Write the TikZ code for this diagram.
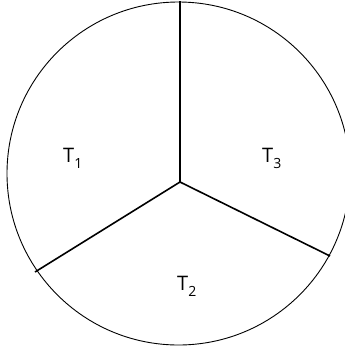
\documentclass[tikz,border=0pt]{standalone}
\usepackage{fontspec}
\setmainfont{Open Sans}
\begin{document}
\begin{tikzpicture}[x=1pt,y=-1pt,
  lbl/.style={anchor=base west,inner sep=0pt,font=\fontsize{20}{24}\selectfont},
  spoke/.style={line width=1.6pt}]
\useasboundingbox (0,0) rectangle (345,354);
\draw[line width=0.9pt] (178.5,173.5) circle[radius=171.5];
\coordinate (c) at (180,182);
\coordinate (top) at (180,1);
\coordinate (ll) at (35,272);
\coordinate (lr) at (330,256);
\draw[spoke] (c) -- (top);
\draw[spoke] (c) -- (ll);
\draw[spoke] (c) -- (lr);
\node[lbl] (t1) at (63,162) {T\raisebox{-0.3em}{\fontsize{14}{14}\selectfont 1}};
\node[lbl] (t3) at (262,162) {T\raisebox{-0.3em}{\fontsize{14}{14}\selectfont 3}};
\node[lbl] (t2) at (177,290) {T\raisebox{-0.3em}{\fontsize{14}{14}\selectfont 2}};
\end{tikzpicture}
\end{document}
